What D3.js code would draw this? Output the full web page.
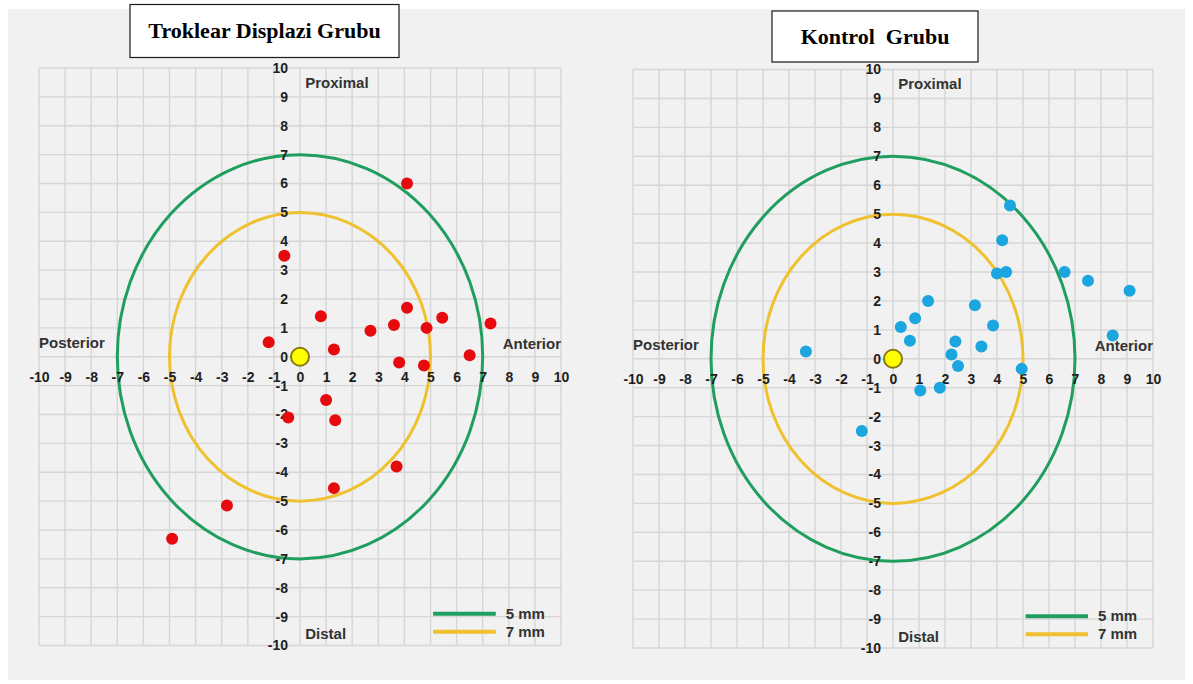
<!DOCTYPE html>
<html>
<head>
<meta charset="utf-8">
<script src="https://cdn.jsdelivr.net/npm/d3@7/dist/d3.min.js"></script>
<style>
  html, body { margin: 0; padding: 0; background: #ffffff; }
  svg { display: block; }
  .sans { font-family: "Liberation Sans", Arial, sans-serif; }
  .serif { font-family: "Liberation Serif", "Times New Roman", serif; }
</style>
</head>
<body>
<svg id="chart" width="1193" height="684"></svg>
<script>
// ---------------- DATA ----------------
const xTicks = [-10,-9,-8,-7,-6,-5,-4,-3,-2,-1,0,1,2,3,4,5,6,7,8,9,10];
const yTicks = [-10,-9,-8,-7,-6,-5,-4,-3,-2,-1,0,1,2,3,4,5,6,7,8,9,10];

// Troklear Displazi Grubu (red points)
const troklearX = [4.1, -0.6, 4.1, 0.8, 2.7, 3.6, 4.85, 5.45, 7.3, -1.2, 1.3, 6.5, 3.8, 4.75, 1.0, -0.45, 1.35, 3.7, 1.3, -2.8, -4.9];
const troklearY = [6.0, 3.5, 1.7, 1.4, 0.9, 1.1, 1.0, 1.35, 1.15, 0.5, 0.25, 0.05, -0.2, -0.3, -1.5, -2.1, -2.2, -3.8, -4.55, -5.15, -6.3];

// Kontrol Grubu (blue points)
const kontrolX = [4.5, 4.2, 4.0, 4.35, 6.6, 7.5, 9.1, 1.35, 3.15, 0.85, 0.3, 3.85, 0.65, 2.4, 3.4, 2.25, 2.5, 8.45, 4.95, 1.05, 1.8, -3.35, -1.2];
const kontrolY = [5.3, 4.1, 2.95, 3.0, 3.0, 2.7, 2.35, 2.0, 1.85, 1.4, 1.1, 1.15, 0.62, 0.6, 0.42, 0.15, -0.25, 0.8, -0.35, -1.1, -1.0, 0.25, -2.5];

// Reference circles (radius in mm) and legend labels
const ringRadii  = [7, 5];
const ringLabels = ["5 mm", "7 mm"];
const ringColors = ["#1f9e5f", "#efc12e"];

const dirLabels = ["Proximal", "Posterior", "Anterior", "Distal"];
const titles = ["Troklear Displazi Grubu", "Kontrol  Grubu"];

// ---------------- LAYOUT ----------------
const panels = [
  { title: titles[0], xs: troklearX, ys: troklearY, color: "#e60a0f",
    xRange: [39, 561], yRange: [645.5, 68],
    box: { x: 130, y: 4.5, w: 269, h: 53, ty: 37.5 } },
  { title: titles[1], xs: kontrolX, ys: kontrolY, color: "#1ba6df",
    xRange: [633, 1153], yRange: [648, 69.5],
    box: { x: 772, y: 11, w: 206, h: 51, ty: 43.5 } }
];

const svg = d3.select("#chart");

// background
svg.append("rect").attr("x", 8).attr("y", 9).attr("width", 1177).attr("height", 671)
  .attr("fill", "#f1f1f1");

panels.forEach(p => {
  const x = d3.scaleLinear().domain([-10, 10]).range(p.xRange);
  const y = d3.scaleLinear().domain([-10, 10]).range(p.yRange);
  const g = svg.append("g");

  // grid
  g.append("g").selectAll("line.v").data(xTicks).join("line")
    .attr("x1", d => x(d)).attr("x2", d => x(d))
    .attr("y1", y(10)).attr("y2", y(-10))
    .attr("stroke", "#d6d6d6").attr("stroke-width", 1.4);
  g.append("g").selectAll("line.h").data(yTicks).join("line")
    .attr("y1", d => y(d)).attr("y2", d => y(d))
    .attr("x1", x(-10)).attr("x2", x(10))
    .attr("stroke", "#d6d6d6").attr("stroke-width", 1.4);

  // rings (ellipses because of unequal scales)
  g.append("g").selectAll("ellipse").data(ringRadii).join("ellipse")
    .attr("cx", x(0)).attr("cy", y(0))
    .attr("rx", d => x(d) - x(0)).attr("ry", d => y(0) - y(d))
    .attr("fill", "none")
    .attr("stroke", (d, i) => ringColors[i])
    .attr("stroke-width", 3);

  // axes
  const xAxis = d3.axisBottom(x).tickValues(xTicks).tickSize(0).tickPadding(15)
    .tickFormat(d => String(d));
  const ax = g.append("g").attr("transform", `translate(0,${y(0)})`).call(xAxis);
  ax.select(".domain").remove();
  ax.attr("font-family", null).attr("font-size", null);
  ax.selectAll("text").attr("class", "sans").attr("font-size", 14).attr("font-weight", "bold")
    .attr("fill", "#1e1e1e");

  const yAxis = d3.axisLeft(y).tickValues(yTicks).tickSize(0).tickPadding(12)
    .tickFormat(d => String(d));
  const ay = g.append("g").attr("transform", `translate(${x(0)},0)`).call(yAxis);
  ay.select(".domain").remove();
  ay.attr("font-family", null).attr("font-size", null);
  ay.selectAll("text").attr("class", "sans").attr("font-size", 14).attr("font-weight", "bold")
    .attr("fill", "#1e1e1e");

  // direction labels
  const lab = [
    { t: dirLabels[0], x: x(0.2),  y: y(9.5),  a: "start" },
    { t: dirLabels[1], x: x(-10),  y: y(0.5),  a: "start" },
    { t: dirLabels[2], x: x(10),   y: y(0.45), a: "end" },
    { t: dirLabels[3], x: x(0.2),  y: y(-9.6), a: "start" }
  ];
  g.append("g").selectAll("text").data(lab).join("text")
    .attr("class", "sans")
    .attr("x", d => d.x).attr("y", d => d.y).attr("dy", "0.35em")
    .attr("text-anchor", d => d.a)
    .attr("font-size", 15).attr("font-weight", "bold").attr("fill", "#333")
    .text(d => d.t);

  // points
  g.append("g").selectAll("circle").data(p.xs.map((v, i) => [v, p.ys[i]])).join("circle")
    .attr("cx", d => x(d[0])).attr("cy", d => y(d[1])).attr("r", 6)
    .attr("fill", p.color);

  // origin marker
  g.append("circle").attr("cx", x(0)).attr("cy", y(0)).attr("r", 9)
    .attr("fill", "#ffff00").attr("stroke", "#8a7a10").attr("stroke-width", 2);

  // legend
  const lx0 = x(5.1), lx1 = x(7.5);
  const lg = g.append("g");
  ringLabels.forEach((t, i) => {
    const ly = y(-8.9) + i * 18;
    lg.append("line").attr("x1", lx0).attr("x2", lx1).attr("y1", ly).attr("y2", ly)
      .attr("stroke", ringColors[i]).attr("stroke-width", 4);
    lg.append("text").attr("class", "sans").attr("x", lx1 + 10).attr("y", ly).attr("dy", "0.35em")
      .attr("font-size", 15).attr("font-weight", "bold").attr("fill", "#333").text(t);
  });

  // title box
  const b = p.box;
  g.append("rect").attr("x", b.x).attr("y", b.y).attr("width", b.w).attr("height", b.h)
    .attr("fill", "#fff").attr("stroke", "#1a1a1a").attr("stroke-width", 1.2);
  g.append("text").attr("class", "serif").attr("x", b.x + b.w / 2).attr("y", b.ty)
    .attr("text-anchor", "middle").style("white-space", "pre")
    .attr("font-size", 22).attr("font-weight", "bold").attr("fill", "#000")
    .text(p.title);
});
</script>
</body>
</html>
